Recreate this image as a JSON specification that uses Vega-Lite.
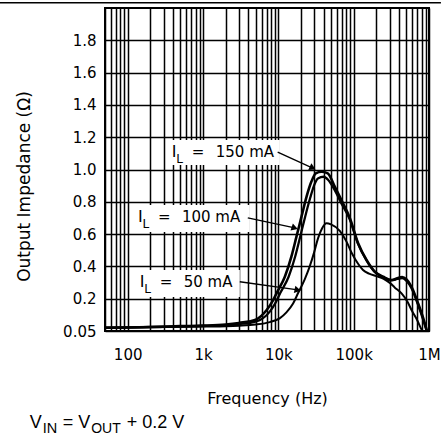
{
  "$schema": "https://vega.github.io/schema/vega-lite/v6.json",
  "width": 324,
  "height": 323,
  "autosize": {"type": "none"},
  "padding": {"left": 105, "top": 8, "right": 12, "bottom": 108},
  "background": "white",
  "config": {"view": {"stroke": "black", "strokeWidth": 2}, "font": "DejaVu Sans"},
  "datasets": {
    "curves": [
      {"series": "150 mA", "f": 50, "z": 0.02}, {"series": "150 mA", "f": 100, "z": 0.022}, {"series": "150 mA", "f": 200, "z": 0.025},
      {"series": "150 mA", "f": 500, "z": 0.03}, {"series": "150 mA", "f": 1000, "z": 0.033}, {"series": "150 mA", "f": 2000, "z": 0.04},
      {"series": "150 mA", "f": 3000, "z": 0.05}, {"series": "150 mA", "f": 5000, "z": 0.07}, {"series": "150 mA", "f": 7000, "z": 0.13},
      {"series": "150 mA", "f": 8500, "z": 0.19}, {"series": "150 mA", "f": 9500, "z": 0.235}, {"series": "150 mA", "f": 12200, "z": 0.336},
      {"series": "150 mA", "f": 14900, "z": 0.46}, {"series": "150 mA", "f": 17400, "z": 0.584}, {"series": "150 mA", "f": 20300, "z": 0.708},
      {"series": "150 mA", "f": 23700, "z": 0.832}, {"series": "150 mA", "f": 27500, "z": 0.925}, {"series": "150 mA", "f": 31400, "z": 0.976},
      {"series": "150 mA", "f": 37400, "z": 0.986}, {"series": "150 mA", "f": 45300, "z": 0.976}, {"series": "150 mA", "f": 56100, "z": 0.894},
      {"series": "150 mA", "f": 68800, "z": 0.81}, {"series": "150 mA", "f": 88900, "z": 0.7}, {"series": "150 mA", "f": 114600, "z": 0.543},
      {"series": "150 mA", "f": 148000, "z": 0.44}, {"series": "150 mA", "f": 191000, "z": 0.367}, {"series": "150 mA", "f": 246000, "z": 0.336},
      {"series": "150 mA", "f": 318000, "z": 0.316}, {"series": "150 mA", "f": 380000, "z": 0.326}, {"series": "150 mA", "f": 440000, "z": 0.334},
      {"series": "150 mA", "f": 500000, "z": 0.32}, {"series": "150 mA", "f": 586000, "z": 0.274}, {"series": "150 mA", "f": 718000, "z": 0.17},
      {"series": "150 mA", "f": 850000, "z": 0.07}, {"series": "150 mA", "f": 940000, "z": 0.0},
      {"series": "100 mA", "f": 50, "z": 0.02}, {"series": "100 mA", "f": 100, "z": 0.022}, {"series": "100 mA", "f": 200, "z": 0.025},
      {"series": "100 mA", "f": 500, "z": 0.029}, {"series": "100 mA", "f": 1000, "z": 0.031}, {"series": "100 mA", "f": 2000, "z": 0.036},
      {"series": "100 mA", "f": 3000, "z": 0.043}, {"series": "100 mA", "f": 5000, "z": 0.058}, {"series": "100 mA", "f": 6200, "z": 0.078},
      {"series": "100 mA", "f": 7700, "z": 0.12}, {"series": "100 mA", "f": 9300, "z": 0.18}, {"series": "100 mA", "f": 10600, "z": 0.235},
      {"series": "100 mA", "f": 13700, "z": 0.336}, {"series": "100 mA", "f": 16700, "z": 0.46}, {"series": "100 mA", "f": 19500, "z": 0.584},
      {"series": "100 mA", "f": 22700, "z": 0.708}, {"series": "100 mA", "f": 26500, "z": 0.825}, {"series": "100 mA", "f": 30000, "z": 0.905},
      {"series": "100 mA", "f": 33500, "z": 0.945}, {"series": "100 mA", "f": 40000, "z": 0.955}, {"series": "100 mA", "f": 46000, "z": 0.935},
      {"series": "100 mA", "f": 56100, "z": 0.872}, {"series": "100 mA", "f": 68800, "z": 0.79}, {"series": "100 mA", "f": 88900, "z": 0.69},
      {"series": "100 mA", "f": 114600, "z": 0.538}, {"series": "100 mA", "f": 148000, "z": 0.437}, {"series": "100 mA", "f": 191000, "z": 0.365},
      {"series": "100 mA", "f": 246000, "z": 0.333}, {"series": "100 mA", "f": 318000, "z": 0.314}, {"series": "100 mA", "f": 380000, "z": 0.322},
      {"series": "100 mA", "f": 440000, "z": 0.328}, {"series": "100 mA", "f": 500000, "z": 0.312}, {"series": "100 mA", "f": 586000, "z": 0.265},
      {"series": "100 mA", "f": 718000, "z": 0.16}, {"series": "100 mA", "f": 850000, "z": 0.06}, {"series": "100 mA", "f": 930000, "z": 0.0},
      {"series": "50 mA", "f": 50, "z": 0.02}, {"series": "50 mA", "f": 100, "z": 0.021}, {"series": "50 mA", "f": 300, "z": 0.024},
      {"series": "50 mA", "f": 1000, "z": 0.028}, {"series": "50 mA", "f": 2000, "z": 0.03}, {"series": "50 mA", "f": 3000, "z": 0.033},
      {"series": "50 mA", "f": 5000, "z": 0.04}, {"series": "50 mA", "f": 7700, "z": 0.055}, {"series": "50 mA", "f": 10400, "z": 0.078},
      {"series": "50 mA", "f": 12800, "z": 0.115}, {"series": "50 mA", "f": 15700, "z": 0.17}, {"series": "50 mA", "f": 18300, "z": 0.235},
      {"series": "50 mA", "f": 22400, "z": 0.32}, {"series": "50 mA", "f": 26100, "z": 0.4}, {"series": "50 mA", "f": 30000, "z": 0.49},
      {"series": "50 mA", "f": 33700, "z": 0.575}, {"series": "50 mA", "f": 38000, "z": 0.635}, {"series": "50 mA", "f": 43600, "z": 0.667},
      {"series": "50 mA", "f": 50000, "z": 0.66}, {"series": "50 mA", "f": 65400, "z": 0.62}, {"series": "50 mA", "f": 80000, "z": 0.555},
      {"series": "50 mA", "f": 95000, "z": 0.48}, {"series": "50 mA", "f": 115000, "z": 0.415}, {"series": "50 mA", "f": 133000, "z": 0.378},
      {"series": "50 mA", "f": 160000, "z": 0.355}, {"series": "50 mA", "f": 201000, "z": 0.34}, {"series": "50 mA", "f": 250000, "z": 0.323},
      {"series": "50 mA", "f": 302000, "z": 0.298}, {"series": "50 mA", "f": 350000, "z": 0.27}, {"series": "50 mA", "f": 432000, "z": 0.233},
      {"series": "50 mA", "f": 520000, "z": 0.18}, {"series": "50 mA", "f": 586000, "z": 0.13}, {"series": "50 mA", "f": 700000, "z": 0.065},
      {"series": "50 mA", "f": 796000, "z": 0.01}, {"series": "50 mA", "f": 820000, "z": 0.0}
    ],
    "labels": [
      {"cur": "150 mA", "f": 385, "z": 1.0755},
      {"cur": "100 mA", "f": 137, "z": 0.677},
      {"cur": "50 mA", "f": 144.5, "z": 0.274}
    ],
    "boxes": [
      {"f": 330, "f2": 10450, "z": 1.183, "z2": 1.028},
      {"f": 117, "f2": 4170, "z": 0.78, "z2": 0.613},
      {"f": 120, "f2": 3080, "z": 0.378, "z2": 0.21}
    ],
    "arrows": [
      {"cur": "150 mA", "f": 9800, "z": 1.108, "f2": 28600, "z2": 1.009},
      {"cur": "100 mA", "f": 3930, "z": 0.7, "f2": 16500, "z2": 0.638},
      {"cur": "50 mA", "f": 3080, "z": 0.305, "f2": 18100, "z2": 0.254}
    ],
    "heads": [
      {"cur": "150 mA", "f": 28600, "z": 1.009},
      {"cur": "100 mA", "f": 16500, "z": 0.638},
      {"cur": "50 mA", "f": 18100, "z": 0.254}
    ],
    "formula": [{"f": 5, "z": -0.6025}],
    "frame": [{"f": 2, "f2": 1440000, "z": 2.033}]
  },
  "encoding": {
    "x": {
      "field": "f", "type": "quantitative",
      "scale": {"type": "log", "domain": [50, 1000000]},
      "axis": {
        "values": [50, 60, 70, 80, 90, 100, 200, 300, 400, 500, 600, 700, 800, 900, 1000, 2000, 3000, 4000, 5000, 6000, 7000, 8000, 9000, 10000, 20000, 30000, 40000, 50000, 60000, 70000, 80000, 90000, 100000, 200000, 300000, 400000, 500000, 600000, 700000, 800000, 900000, 1000000],
        "labelExpr": "datum.value == 100 ? '100' : datum.value == 1000 ? '1k' : datum.value == 10000 ? '10k' : datum.value == 100000 ? '100k' : datum.value == 1000000 ? '1M' : ''",
        "grid": true, "gridColor": "black", "gridWidth": 1.5, "gridOpacity": 1,
        "domain": false, "ticks": false, "tickSize": 0,
        "labelFont": "DejaVu Sans", "labelFontSize": 15, "labelColor": "black",
        "labelPadding": 16, "labelFlush": false, "labelOverlap": false,
        "title": "Frequency (Hz)", "titleFont": "DejaVu Sans", "titleFontSize": 16,
        "titleFontWeight": "normal", "titleColor": "black", "titleY": 72, "titleBaseline": "alphabetic"
      }
    },
    "y": {
      "field": "z", "type": "quantitative",
      "scale": {"domain": [0, 2], "nice": false, "zero": false},
      "axis": {
        "values": [0, 0.2, 0.4, 0.6, 0.8, 1.0, 1.2, 1.4, 1.6, 1.8],
        "labelExpr": "datum.value == 0 ? '0.05' : format(datum.value, '.1f')",
        "grid": true, "gridColor": "black", "gridWidth": 1.5, "gridOpacity": 1,
        "domain": false, "ticks": false, "tickSize": 0,
        "labelFont": "DejaVu Sans", "labelFontSize": 15, "labelColor": "black",
        "labelPadding": 9, "labelFlush": false, "labelOverlap": false,
        "title": "Output Impedance  (Ω)", "titleFont": "DejaVu Sans", "titleFontSize": 17,
        "titleFontWeight": "normal", "titleColor": "black",
        "titleX": -76, "titleY": 178, "titleBaseline": "alphabetic", "titleAngle": 270
      }
    }
  },
  "layer": [
    {
      "data": {"name": "frame"},
      "mark": {"type": "rule", "color": "black", "strokeWidth": 1.5, "clip": false},
      "encoding": {"x2": {"field": "f2"}}
    },
    {
      "data": {"name": "boxes"},
      "mark": {"type": "rect", "fill": "white", "stroke": null},
      "encoding": {"x2": {"field": "f2"}, "y2": {"field": "z2"}}
    },
    {
      "data": {"name": "curves"},
      "mark": {"type": "line", "interpolate": "monotone", "clip": true},
      "encoding": {
        "detail": {"field": "series", "type": "nominal"},
        "color": {"value": "black"},
        "strokeWidth": {
          "field": "series", "type": "nominal",
          "scale": {"domain": ["150 mA", "100 mA", "50 mA"], "range": [2.6, 2, 2]},
          "legend": null
        }
      }
    },
    {
      "data": {"name": "arrows"},
      "mark": {"type": "rule", "color": "black", "strokeWidth": 1.3},
      "encoding": {"x2": {"field": "f2"}, "y2": {"field": "z2"}}
    },
    {
      "data": {"name": "heads"},
      "mark": {"type": "point", "shape": "triangle-right", "filled": true, "color": "black", "size": 55, "opacity": 1},
      "encoding": {
        "angle": {"field": "cur", "type": "nominal", "scale": {"domain": ["150 mA", "100 mA", "50 mA"], "range": [25, 12, 8]}, "legend": null}
      }
    },
    {
      "data": {"name": "labels"},
      "mark": {"type": "text", "text": "I", "align": "left", "baseline": "alphabetic", "font": "DejaVu Sans", "fontSize": 16, "color": "black"}
    },
    {
      "data": {"name": "labels"},
      "mark": {"type": "text", "text": "L", "align": "left", "baseline": "alphabetic", "font": "DejaVu Sans", "fontSize": 12, "dx": 4.5, "dy": 6, "color": "black"}
    },
    {
      "data": {"name": "labels"},
      "mark": {"type": "text", "text": "=", "align": "left", "baseline": "alphabetic", "font": "DejaVu Sans", "fontSize": 15, "dx": 20, "color": "black"}
    },
    {
      "data": {"name": "labels"},
      "mark": {"type": "text", "align": "left", "baseline": "alphabetic", "font": "DejaVu Sans", "fontSize": 15, "dx": 44, "color": "black"},
      "encoding": {"text": {"field": "cur", "type": "nominal"}}
    },
    {
      "data": {"name": "formula"},
      "mark": {"type": "text", "text": "V", "align": "left", "baseline": "alphabetic", "font": "Liberation Sans", "fontSize": 18, "color": "black"}
    },
    {
      "data": {"name": "formula"},
      "mark": {"type": "text", "text": "IN", "align": "left", "baseline": "alphabetic", "font": "Liberation Sans", "fontSize": 14.5, "dx": 13, "dy": 5, "color": "black"}
    },
    {
      "data": {"name": "formula"},
      "mark": {"type": "text", "text": "= V", "align": "left", "baseline": "alphabetic", "font": "Liberation Sans", "fontSize": 18, "dx": 33, "color": "black"}
    },
    {
      "data": {"name": "formula"},
      "mark": {"type": "text", "text": "OUT", "align": "left", "baseline": "alphabetic", "font": "Liberation Sans", "fontSize": 14, "dx": 61.5, "dy": 5, "color": "black"}
    },
    {
      "data": {"name": "formula"},
      "mark": {"type": "text", "text": "+ 0.2 V", "align": "left", "baseline": "alphabetic", "font": "Liberation Sans", "fontSize": 18, "dx": 97, "color": "black"}
    }
  ]
}
